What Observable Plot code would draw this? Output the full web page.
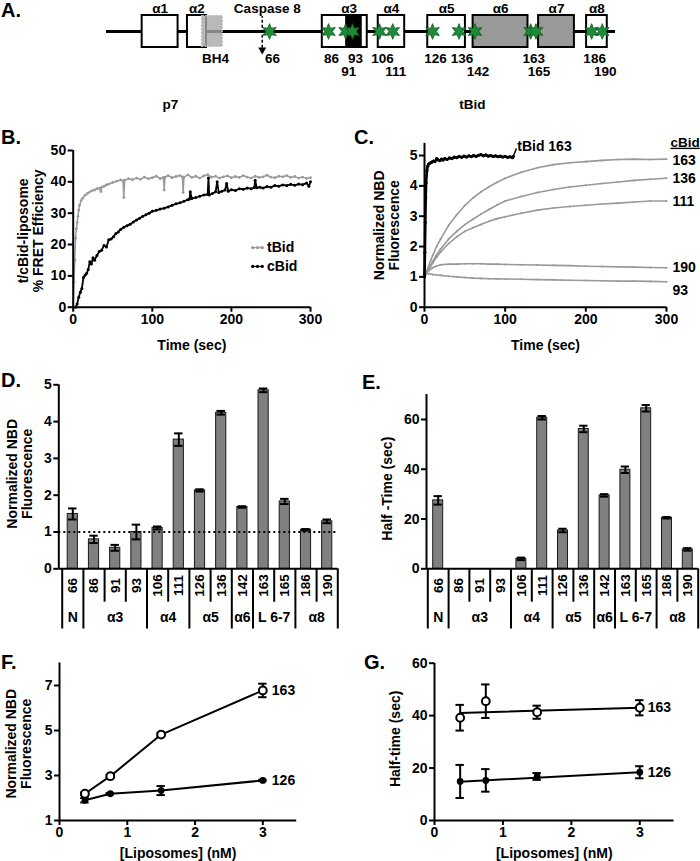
<!DOCTYPE html>
<html><head><meta charset="utf-8">
<script src="https://cdn.jsdelivr.net/npm/d3@7"></script>
<script src="https://cdn.jsdelivr.net/npm/@observablehq/plot@0.6"></script>
<style>
body{margin:0;background:#fff;}
#fig{position:relative;width:700px;height:861px;overflow:hidden;background:#fff;font-family:'Liberation Sans',Arial,Helvetica,sans-serif;font-weight:bold;color:#000;}
.lbl{position:absolute;font-size:20px;line-height:20px;font-weight:bold;}
</style></head><body><div id="fig"></div>
<script>
// ================= DATA =================
// Panel A (schematic, residue numbers)
const aResidues = [66,86,91,93,106,111,126,136,142,163,165,186,190];
const aLabelRow = [1,1,2,1,1,2,1,1,2,1,2,1,2];
const helixNames = ["α1","α2","α3","α4","α5","α6","α7","α8"];
const helixStart = [18.5,35.4,83.9,105.4,124.2,141.3,166.0,184.1];
const helixEnd   = [31.9,42.5,100.1,115.5,138.4,162.0,179.5,191.9];
const helixShade = ["open","open","open","open","open","filled","filled","open"];
const proteinSpan = [5.2,195];
const bh4Span = [40.9,48.5];
const alpha3Dark = [91,97.7];
const caspaseCut = 63.3;
const domainNames = ["p7","tBid"];
const domainLabelAt = [29,141];

// Panel B
const bTimeT = [0,1,2,3,4,5,6,7,8,10,12,15,18,21,24,27,30,33,35,36,39,42,45,50,55,60,63,64,65,70,75,80,85,90,95,100,105,110,114,115,116,120,125,130,135,138,139,140,145,150,155,160,165,170,175,180,185,190,195,200,205,210,215,220,225,230,235,240,245,250,255,260,265,270,275,280,285,290,295,300];
const bValT = [0,8,15,22,25,27,29,31,32.5,34,34.8,35.7,36.3,36.8,37.2,37.4,37.8,38,36.9,38.3,38.6,39,39.3,39.8,40.2,40.6,40.3,35,40.5,41,40.7,41.2,40.8,41.5,41,41.3,41.8,41,41.4,37.4,41.5,42,41.3,41.7,42,41.6,36.6,41.5,42.2,41.4,41.8,41.2,41.9,42.3,41.5,41.8,41.2,41.6,41.9,41.3,41.7,41.4,42,41.5,41.2,41.8,41.4,41.6,42.1,41.5,41.3,41.8,41.6,42,41.4,41.7,41.2,41.5,41.1,41.3];
const bTimeC = [3,5,7,9,11,13,15,17,19,21,23,25,27,30,33,36,39,42,45,48,51,54,57,60,64,68,72,76,80,84,88,92,96,100,105,110,115,120,125,130,135,140,145,147,148,150,155,160,165,170,171,172,176,180,182,184,188,192,194,196,200,205,210,215,220,225,229,230,232,236,240,245,250,255,260,265,270,275,280,285,290,295,298,300];
const bValC = [0,1,3.2,4.8,6,9.5,10.2,10.8,12,14.5,13.8,15.8,15,16.5,17.8,18.2,19.7,19.2,21.5,21.8,22.5,23.5,24,24.8,25.5,26,26.5,27.2,27.8,28.4,29,29.5,30,30.6,30.9,31.3,31.6,32,32.5,33,33.3,33.8,34.3,34.5,36.8,34.7,35,35.4,35.8,36,41.2,35.8,36.3,36.8,40,36.6,37,37.4,39.5,37,37.5,37.2,37.8,37.6,38,37.8,38.2,40.5,38.1,38.3,38,38.5,38.3,38.8,38.6,39,38.8,39.2,38.9,39.3,39.1,39.6,38.6,40];
const bSeriesNames = ["tBid","cBid"];

// Panel C
const cTime = [0,5,10,15,20,30,40,50,60,70,80,90,100,120,140,160,180,200,220,240,260,280,300];
const cNames = ["163","136","111","190","93"];
const c163 = [1.0,1.35,1.7,2.0,2.25,2.7,3.05,3.35,3.6,3.8,3.97,4.12,4.25,4.45,4.6,4.7,4.76,4.8,4.84,4.87,4.88,4.87,4.88];
const c136 = [1.0,1.25,1.5,1.72,1.92,2.25,2.5,2.72,2.9,3.07,3.22,3.37,3.5,3.65,3.78,3.88,3.96,4.02,4.08,4.13,4.18,4.22,4.25];
const c111 = [1.0,1.22,1.45,1.65,1.82,2.1,2.32,2.5,2.62,2.73,2.83,2.92,2.98,3.1,3.2,3.27,3.32,3.36,3.4,3.43,3.47,3.5,3.5];
const c190 = [1.05,1.2,1.3,1.36,1.4,1.42,1.42,1.43,1.43,1.43,1.42,1.42,1.41,1.4,1.39,1.38,1.37,1.35,1.34,1.33,1.32,1.31,1.3];
const c93  = [1.12,1.1,1.08,1.06,1.05,1.02,1.0,0.98,0.96,0.95,0.94,0.935,0.93,0.92,0.91,0.9,0.89,0.88,0.87,0.86,0.86,0.85,0.84];
const cTimeT = [0,0.5,1,1.5,2,3,4,5,7,9,11,13,15,17,19,21,23,25,28,31,34,37,40,43,46,49,52,55,58,61,64,67,70,73,76,79,82,85,88,91,94,97,100,103,106,109,110];
const cValT = [1.0,1.8,2.8,3.6,4.1,4.5,4.65,4.72,4.75,4.78,4.82,4.8,4.9,4.86,4.83,4.88,4.85,4.9,4.87,4.92,4.9,4.95,4.93,4.97,4.94,4.98,4.95,4.99,4.96,5.0,4.97,5.01,5.03,4.99,5.02,4.98,5.0,4.97,4.99,4.96,4.98,4.95,4.97,4.94,4.96,4.93,4.97];

// Panels D & E
const residues = ["66","86","91","93","106","111","126","136","142","163","165","186","190"];
const groupNames = ["N","α3","α4","α5","α6","L 6-7","α8"];
const groupSizes = [1,3,2,2,1,2,2];
const dValue = [1.49,0.80,0.57,1.00,1.11,3.51,2.13,4.24,1.68,4.85,1.83,1.06,1.29];
const dError = [0.15,0.10,0.08,0.20,0.04,0.17,0.03,0.05,0.02,0.05,0.07,0.02,0.05];
const eValue = [27.5,null,null,null,4.0,60.7,15.4,56.2,29.5,39.8,64.5,20.5,7.8];
const eError = [1.7,null,null,null,0.5,0.7,0.7,1.3,0.5,1.3,1.3,0.3,0.5];

// Panels F & G
const conc = [0.375,0.75,1.5,3];
const f163 = [2.19,2.97,4.82,6.78];
const f163Err = [0.06,0.06,0.06,0.3];
const f126 = [1.9,2.19,2.33,2.78];
const f126Err = [0.1,0.03,0.2,0.03];
const g163 = [39.2,45.5,41.3,43.0];
const g163Err = [4.9,6.4,2.5,2.9];
const g126 = [14.9,15.3,16.8,18.4];
const g126Err = [6.3,4.3,1.3,2.3];
const fitConc = [0.375,3];
const gFit163 = [41.0,43.0];
const gFit126 = [14.8,18.4];

// ================= HELPERS =================
const fig = document.getElementById("fig");
const FONT = "'Liberation Sans', Arial, Helvetica, sans-serif";
const styleStr = s => `font-family:${FONT};font-size:${s}px;font-weight:bold;background:transparent;overflow:visible;color:#000;`;
function mount(svg, left, top) {
  svg.style.position = "absolute";
  svg.style.left = left + "px";
  svg.style.top = top + "px";
  fig.appendChild(svg);
}
function letter(t, left, top) {
  const d = document.createElement("div");
  d.className = "lbl"; d.textContent = t;
  d.style.left = left + "px"; d.style.top = top + "px";
  fig.appendChild(d);
}
const zip2 = (xs, ys, kx, ky) => xs.slice(0, Math.min(xs.length, ys.length)).map((x, i) => ({[kx]: x, [ky]: ys[i]}));
function frameMargins(p) {
  return {
    width: p.width, height: p.height,
    marginLeft: p.fx0 - p.left, marginRight: p.left + p.width - p.fx1,
    marginTop: p.fyTop - p.top, marginBottom: p.top + p.height - p.fyBot
  };
}
function errBars(data, capHalf) {
  return [
    Plot.ruleX(data, {x: "x", y1: d => d.y - d.e, y2: d => d.y + d.e, strokeWidth: 2}),
    Plot.ruleY(data, {y: d => d.y + d.e, x1: d => d.x - capHalf, x2: d => d.x + capHalf, strokeWidth: 2}),
    Plot.ruleY(data, {y: d => d.y - d.e, x1: d => d.x - capHalf, x2: d => d.x + capHalf, strokeWidth: 2})
  ];
}
function yTitle(text, dx, dy) {
  return Plot.text([text], {text: d => d, frameAnchor: "left", textAnchor: "middle", lineAnchor: "middle", rotate: -90, dx, dy, lineHeight: 1.05, fontSize: 14, fontWeight: "bold"});
}
function xTitle(text, dy) {
  return Plot.text([text], {text: d => d, frameAnchor: "bottom", textAnchor: "middle", lineAnchor: "middle", dy, fontSize: 14, fontWeight: "bold"});
}
function axisX(ticks) {
  return Plot.axisX({ticks, tickSize: 5, tickPadding: 2, strokeWidth: 2, label: null, tickFormat: d => String(d)});
}
function axisY(ticks) {
  return Plot.axisY({ticks, tickSize: 5, tickPadding: 2, strokeWidth: 2, label: null, tickFormat: d => String(d)});
}

// ================= PANEL A =================
{
  const star6 = {draw(ctx, size) {
    const R = Math.sqrt(size) * 0.85, r = R * 0.48;
    for (let k = 0; k < 12; k++) {
      const a = k * Math.PI / 6 - Math.PI / 2, rr = k % 2 ? r : R;
      if (k === 0) ctx.moveTo(rr * Math.cos(a), rr * Math.sin(a)); else ctx.lineTo(rr * Math.cos(a), rr * Math.sin(a));
    }
    ctx.closePath();
  }};
  const helices = helixNames.map((n, i) => ({n, s: helixStart[i], e: helixEnd[i], shade: helixShade[i]}));
  const sites = aResidues.map((r, i) => ({r, row: aLabelRow[i]}));
  const domains = domainNames.map((n, i) => ({n, at: domainLabelAt[i]}));
  const svg = Plot.plot({
    width: 700, height: 140, margin: 0,
    style: styleStr(13.5),
    x: {type: "linear", domain: [5.2, 66, 86, 93, 106, 195], range: [106, 269, 328, 352, 379, 615], axis: null},
    y: {domain: [0, 1], range: [47, 15], axis: null},
    marks: [
      Plot.ruleY([0.5], {x1: proteinSpan[0], x2: proteinSpan[1], strokeWidth: 3.2}),
      Plot.rect(helices, {x1: "s", x2: "e", y1: 0, y2: 1, fill: d => d.shade === "filled" ? "#999" : "#fff", stroke: "#000", strokeWidth: 2}),
      Plot.rect([alpha3Dark], {x1: d => d[0], x2: d => d[1], y1: 0, y2: 1, fill: "#000"}),
      Plot.rect([bh4Span], {x1: d => d[0], x2: d => d[1], y1: 0.02, y2: 0.98, fill: "#a8a8a8", fillOpacity: 0.8, stroke: "#b5b5b5", strokeWidth: 1.5, strokeDasharray: "2,1.5"}),
      Plot.ruleX([caspaseCut], {x: d => d, y1: -0.02, y2: 0.97, strokeWidth: 1.5, strokeDasharray: "3,2"}),
      Plot.dot([caspaseCut], {x: d => d, y: -0.07, symbol: "triangle", rotate: 180, r: 3, fill: "#000", stroke: "none"}),
      Plot.dot(sites, {x: "r", y: 0.5, symbol: star6, r: 5.2, fill: "#1f8a3a", stroke: "#0c5a1f", strokeWidth: 0.8}),
      Plot.text(helices, {x: d => (d.s + d.e) / 2, y: 1.22, text: "n"}),
      Plot.text(["Caspase 8"], {x: caspaseCut, y: 1.22, dx: 5, text: d => d}),
      Plot.text(["BH4"], {x: (bh4Span[0] + bh4Span[1]) / 2, y: -0.36, dx: 3, text: d => d}),
      Plot.text(sites, {x: "r", y: d => d.row === 1 ? -0.34 : -0.77, dx: 3, text: d => String(d.r)}),
      Plot.text(domains, {x: "at", y: -1.78, text: "n"})
    ]
  });
  mount(svg, 0, 0);
}

// ================= PANEL B =================
{
  const P = {left: 0, top: 120, width: 350, height: 240, fx0: 72.7, fx1: 310, fyTop: 150, fyBot: 306.7};
  const tB = zip2(bTimeT, bValT, "t", "v");
  const cB = zip2(bTimeC, bValC, "t", "v");
  const legend = bSeriesNames.map((n, i) => ({n, y: i === 0 ? 19 : 13, c: i === 0 ? "#999" : "#000"}));
  const legendDots = legend.flatMap(l => [227, 233, 239].map(t => ({t, y: l.y, c: l.c})));
  const svg = Plot.plot({
    ...frameMargins(P),
    style: styleStr(14),
    x: {domain: [0, 300]},
    y: {domain: [0, 50]},
    marks: [
      Plot.line(tB, {x: "t", y: "v", stroke: "#9a9a9a", strokeWidth: 1.5}),
      Plot.dot(tB, {x: "t", y: "v", r: 1.4, fill: "#9a9a9a"}),
      Plot.line(cB, {x: "t", y: "v", stroke: "#000", strokeWidth: 1.8}),
      Plot.dot(cB, {x: "t", y: "v", r: 1.5, fill: "#000"}),
      Plot.ruleY(legend, {y: "y", x1: 226, x2: 240, stroke: "c", strokeWidth: 1.2}),
      Plot.dot(legendDots, {x: "t", y: "y", r: 1.6, fill: "c"}),
      Plot.text(legend, {x: 245, y: "y", text: "n", textAnchor: "start", fontSize: 14}),
      Plot.ruleY([0], {strokeWidth: 2}),
      Plot.ruleX([0], {y1: 0, y2: 50, strokeWidth: 2}),
      axisX([0, 100, 200, 300]),
      axisY([0, 10, 20, 30, 40, 50]),
      xTitle("Time (sec)", 38),
      yTitle("t/cBid-liposome\n% FRET Efficiency", -42.5, 2)
    ]
  });
  mount(svg, P.left, P.top);
}

// ================= PANEL C =================
{
  const P = {left: 350, top: 120, width: 350, height: 240, fx0: 424, fx1: 666, fyTop: 142.9, fyBot: 306.7};
  const seriesVals = [c163, c136, c111, c190, c93];
  const series = cNames.map((n, k) => ({n, pts: zip2(cTime, seriesVals[k], "t", "v")}));
  const grayMarks = series.flatMap(s => [
    Plot.line(s.pts, {x: "t", y: "v", stroke: "#999", strokeWidth: 1.6}),
    Plot.dot(s.pts, {x: "t", y: "v", r: 1, fill: "#999"}),
    Plot.text([s.pts[s.pts.length - 1]], {x: "t", y: "v", text: () => s.n, textAnchor: "start", dx: 6, dy: s.n === "93" ? 9 : (s.n === "163" ? 1 : 0), fontSize: 14})
  ]);
  const tB = zip2(cTimeT, cValT, "t", "v");
  const last = tB[tB.length - 1];
  const svg = Plot.plot({
    ...frameMargins(P),
    style: styleStr(14),
    x: {domain: [0, 300]},
    y: {domain: [0, 5.4]},
    marks: [
      ...grayMarks,
      Plot.line(tB, {x: "t", y: "v", stroke: "#000", strokeWidth: 2.6}),
      Plot.dot(tB, {x: "t", y: "v", r: 1.6, fill: "#000"}),
      Plot.link([last], {x1: "t", y1: "v", x2: d => d.t + 4, y2: d => d.v + 0.26, strokeWidth: 1.5}),
      Plot.text([last], {x: "t", y: "v", dx: 4, dy: -10, text: () => "tBid 163", textAnchor: "start", fontSize: 14}),
      Plot.text(["cBid"], {text: d => d, frameAnchor: "top-right", dx: 4, dy: -1, textAnchor: "start", lineAnchor: "middle", fontSize: 13.5}),
      Plot.ruleY([0], {strokeWidth: 2}),
      Plot.ruleX([0], {strokeWidth: 2}),
      axisX([0, 100, 200, 300]),
      axisY([0, 1, 2, 3, 4, 5]),
      xTitle("Time (sec)", 38),
      yTitle("Normalized NBD\nFluorescence", -38, 0)
    ]
  });
  svg.querySelectorAll("text").forEach(t => { if (t.textContent === "cBid") t.setAttribute("text-decoration", "underline"); });
  mount(svg, P.left, P.top);
}

// ================= PANELS D & E =================
function barPanel(o) {
  const P = {left: o.left, top: 360, width: 350, height: 280, fx0: o.axisPx, fx1: o.tableRight, fyTop: o.yTopPx, fyBot: 568.3};
  const pxPerUnit = (P.fyBot - P.fyTop) / o.yMax;
  const u = gpx => -(gpx - P.fyBot) / pxPerUnit; // global px -> y value (layout helper)
  const n = residues.length;
  const step = (o.tableRight - o.tableLeft) / n;
  const data = residues.map((r, i) => ({r, x: i, y: o.values[i], e: o.errors[i]}));
  const bars = data.filter(d => d.y != null);
  const bounds = [0]; groupSizes.forEach(s => bounds.push(bounds[bounds.length - 1] + s));
  const groups = groupNames.map((g, k) => ({g, mid: bounds[k] + groupSizes[k] / 2 - 0.5}));
  const inner = d3.range(n + 1).filter(b => !bounds.includes(b));
  const axisXVal = -0.5 - (o.tableLeft - o.axisPx) / step;
  const svg = Plot.plot({
    ...frameMargins(P),
    style: styleStr(14),
    x: {type: "linear", domain: [-0.5, n - 0.5], range: [o.tableLeft - o.left, o.tableRight - o.left], axis: null},
    y: {domain: [0, o.yMax]},
    marks: [
      Plot.rectY(bars, {x1: d => d.x - 0.24, x2: d => d.x + 0.24, y1: 0, y2: "y", fill: "#808080", stroke: "#1a1a1a", strokeWidth: 1}),
      ...errBars(bars, 0.2),
      o.dotted ? Plot.ruleY([1], {strokeWidth: 2, strokeDasharray: "2,3"}) : null,
      Plot.ruleY([0], {strokeWidth: 2}),
      Plot.ruleX([axisXVal], {x: d => d, y1: 0, y2: o.yMax, strokeWidth: 2}),
      Plot.ruleX(inner, {x: b => b - 0.5, y1: 0, y2: u(601.7), strokeWidth: 2}),
      Plot.ruleX(bounds, {x: b => b - 0.5, y1: 0, y2: u(628.5), strokeWidth: 2}),
      Plot.text(data, {x: "x", y: u(585), text: "r", rotate: -90, textAnchor: "middle", lineAnchor: "middle", fontSize: 13.5}),
      Plot.text(groups, {x: "mid", y: u(617), text: "g", fontSize: 14}),
      axisY(o.yTicks),
      yTitle(o.title, o.titleDx, o.titleDy)
    ]
  });
  mount(svg, P.left, P.top);
}
barPanel({left: 0, axisPx: 58.3, tableLeft: 61.7, tableRight: 337.3, yTopPx: 384.3, yMax: 5, yTicks: [0, 1, 2, 3, 4, 5],
  values: dValue, errors: dError, dotted: true, title: "Normalized NBD\nFluorescence", titleDx: -38.8, titleDy: -3});
barPanel({left: 350, axisPx: 426, tableLeft: 427.3, tableRight: 697.7, yTopPx: 394.1, yMax: 70, yTicks: [0, 20, 40, 60],
  values: eValue, errors: eError, dotted: false, title: "Half -Time (sec)", titleDx: -39.3, titleDy: 7});

// ================= PANELS F & G =================
function scatterPanel(o) {
  const P = {left: o.left, top: 640, width: 350, height: 221, fx0: o.fx0, fx1: o.fx1, fyTop: o.fyTop, fyBot: 820};
  const pxX = (o.fx1 - o.fx0) / 3.5;
  const cap = 4.2 / pxX;
  const open = zip2(conc, o.open, "x", "y").map((d, i) => ({...d, e: o.openErr[i]}));
  const filled = zip2(conc, o.filled, "x", "y").map((d, i) => ({...d, e: o.filledErr[i]}));
  const lineOpen = o.fitOpen ? zip2(fitConc, o.fitOpen, "x", "y") : open;
  const lineFilled = o.fitFilled ? zip2(fitConc, o.fitFilled, "x", "y") : filled;
  const svg = Plot.plot({
    ...frameMargins(P),
    style: styleStr(14),
    x: {domain: [0, 3.5]},
    y: {domain: o.yDomain},
    marks: [
      Plot.line(lineOpen, {x: "x", y: "y", strokeWidth: 2}),
      Plot.line(lineFilled, {x: "x", y: "y", strokeWidth: 2}),
      ...errBars(open, cap),
      ...errBars(filled, cap),
      Plot.dot(filled, {x: "x", y: "y", r: 3.4, fill: "#000", stroke: "none"}),
      Plot.dot(open, {x: "x", y: "y", r: 3.9, fill: "#fff", stroke: "#000", strokeWidth: 2}),
      Plot.text([open[open.length - 1]], {x: "x", y: "y", text: () => "163", dx: o.labelDx, textAnchor: "start", fontSize: 14}),
      Plot.text([filled[filled.length - 1]], {x: "x", y: "y", text: () => "126", dx: o.labelDx, textAnchor: "start", fontSize: 14}),
      Plot.ruleY([o.yDomain[0]], {strokeWidth: 2}),
      Plot.ruleX([0], {strokeWidth: 2}),
      axisX([0, 1, 2, 3]),
      axisY(o.yTicks),
      xTitle("[Liposomes] (nM)", 33),
      yTitle(o.title, o.titleDx, o.titleDy)
    ]
  });
  mount(svg, P.left, P.top);
}
scatterPanel({left: 0, fx0: 59, fx1: 296.2, fyTop: 662.5, yDomain: [1, 8], yTicks: [1, 3, 5, 7],
  open: f163, openErr: f163Err, filled: f126, filledErr: f126Err, labelDx: 9,
  title: "Normalized NBD\nFluorescence", titleDx: -40.7, titleDy: 2});
scatterPanel({left: 350, fx0: 434, fx1: 673.5, fyTop: 662.7, yDomain: [0, 60], yTicks: [0, 20, 40, 60],
  open: g163, openErr: g163Err, filled: g126, filledErr: g126Err, fitOpen: gFit163, fitFilled: gFit126, labelDx: 8,
  title: "Half-time (sec)", titleDx: -39, titleDy: -3});

// ================= PANEL LETTERS =================
letter("A.", 1, 0);
letter("B.", 1, 127);
letter("C.", 354, 127);
letter("D.", 1, 370);
letter("E.", 362, 372);
letter("F.", 1, 652);
letter("G.", 364, 652);
</script></body></html>
